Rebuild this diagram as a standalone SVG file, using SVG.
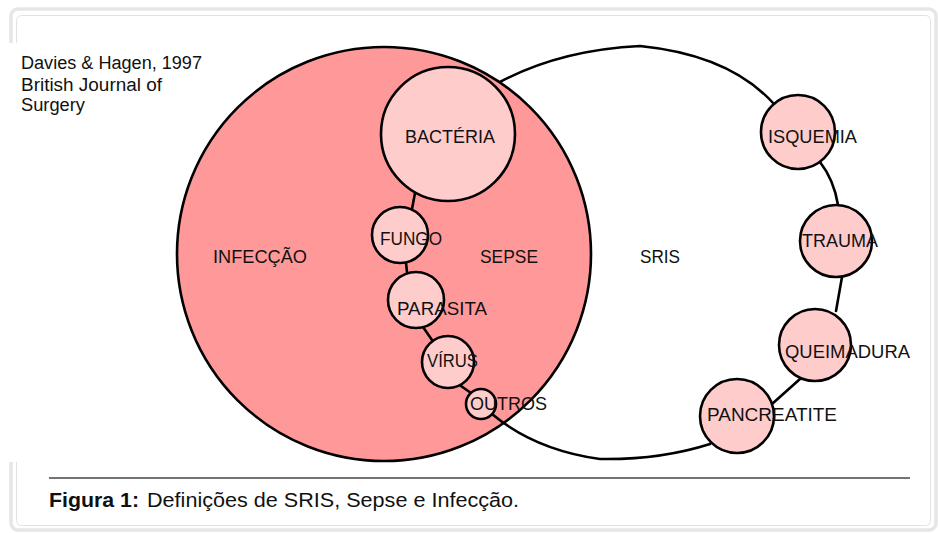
<svg xmlns="http://www.w3.org/2000/svg" width="938" height="533" viewBox="0 0 938 533">
<style>
.lbl{font-family:"Liberation Sans",Arial,sans-serif;font-size:18px;fill:#111}
.src{font-family:"Liberation Sans",Arial,sans-serif;font-size:18px;fill:#111}
.cap{font-family:"Liberation Sans",Arial,sans-serif;font-size:20px;fill:#111}
.edge{fill:none;stroke:#000;stroke-width:2.6;stroke-linecap:round}
.small{fill:#ffcccc;stroke:#000;stroke-width:2.6}
</style>
<rect x="0" y="0" width="938" height="533" fill="#fff"/>
<rect x="11" y="9" width="925" height="521" rx="7" fill="none" stroke="#e6e6e6" stroke-width="3.5"/>
<rect x="16.5" y="15.5" width="914" height="510" rx="5" fill="none" stroke="#e2e2e2" stroke-width="1"/>
<rect x="9" y="43" width="905" height="419" fill="#fff"/>
<g id="source">
<text class="src" x="21" y="69" textLength="181" lengthAdjust="spacingAndGlyphs">Davies &amp; Hagen, 1997</text>
<text class="src" x="21" y="91" textLength="141" lengthAdjust="spacingAndGlyphs">British Journal of</text>
<text class="src" x="21" y="111" textLength="64" lengthAdjust="spacingAndGlyphs">Surgery</text>
</g>
<g id="infeccao">
<circle cx="384" cy="254" r="207" fill="#ff9999" stroke="#000" stroke-width="2.6"/>
</g>
<g id="connectors">
<path class="edge" d="M500 82 Q560 50 640 46 Q730 55 774 104"/>
<path class="edge" d="M820 162 Q834 180 838 205"/>
<path class="edge" d="M842 277 L836 311"/>
<path class="edge" d="M800 379 L772 404"/>
<path class="edge" d="M710 444 Q660 460 600 459 Q535 450 492 414"/>
<path class="edge" d="M471 393 L461 386"/>
<path class="edge" d="M432 340 L423 327"/>
<path class="edge" d="M407 272 L406 263"/>
<path class="edge" d="M412 209 L415 193"/>
</g>
<g id="bacteria"><circle class="small" cx="448" cy="134" r="67"/></g>
<g id="fungo"><circle class="small" cx="400" cy="235" r="28"/></g>
<g id="parasita"><circle class="small" cx="416" cy="300" r="28"/></g>
<g id="virus"><circle class="small" cx="448" cy="362" r="26"/></g>
<g id="outros"><circle class="small" cx="481" cy="404" r="15"/></g>
<g id="isquemia"><circle class="small" cx="798" cy="132" r="37"/></g>
<g id="trauma"><circle class="small" cx="836" cy="241" r="36"/></g>
<g id="queimadura"><circle class="small" cx="815" cy="345" r="36"/></g>
<g id="pancreatite"><circle class="small" cx="737" cy="416" r="37"/></g>
<g id="labels">
<text class="lbl" x="213" y="263" textLength="94" lengthAdjust="spacingAndGlyphs">INFECÇÃO</text>
<text class="lbl" x="480" y="263" textLength="58" lengthAdjust="spacingAndGlyphs">SEPSE</text>
<text class="lbl" x="640" y="263" textLength="40" lengthAdjust="spacingAndGlyphs">SRIS</text>
<text class="lbl" x="405" y="143" textLength="90" lengthAdjust="spacingAndGlyphs">BACTÉRIA</text>
<text class="lbl" x="380" y="245" textLength="62" lengthAdjust="spacingAndGlyphs">FUNGO</text>
<text class="lbl" x="397" y="315" textLength="90" lengthAdjust="spacingAndGlyphs">PARASITA</text>
<text class="lbl" x="427" y="367" textLength="51" lengthAdjust="spacingAndGlyphs">VÍRUS</text>
<text class="lbl" x="470" y="410" textLength="77" lengthAdjust="spacingAndGlyphs">OUTROS</text>
<text class="lbl" x="768" y="143" textLength="89" lengthAdjust="spacingAndGlyphs">ISQUEMIA</text>
<text class="lbl" x="802" y="247" textLength="76" lengthAdjust="spacingAndGlyphs">TRAUMA</text>
<text class="lbl" x="785" y="358" textLength="125" lengthAdjust="spacingAndGlyphs">QUEIMADURA</text>
<text class="lbl" x="707" y="421" textLength="130" lengthAdjust="spacingAndGlyphs">PANCREATITE</text>
</g>
<g id="caption">
<line x1="49" y1="478" x2="910" y2="478" stroke="#444" stroke-width="1.5"/>
<text class="cap" x="49" y="507" font-weight="bold" textLength="90" lengthAdjust="spacingAndGlyphs">Figura 1:</text>
<text class="cap" x="147" y="507" textLength="372" lengthAdjust="spacingAndGlyphs">Definições de SRIS, Sepse e Infecção.</text>
</g>
</svg>
